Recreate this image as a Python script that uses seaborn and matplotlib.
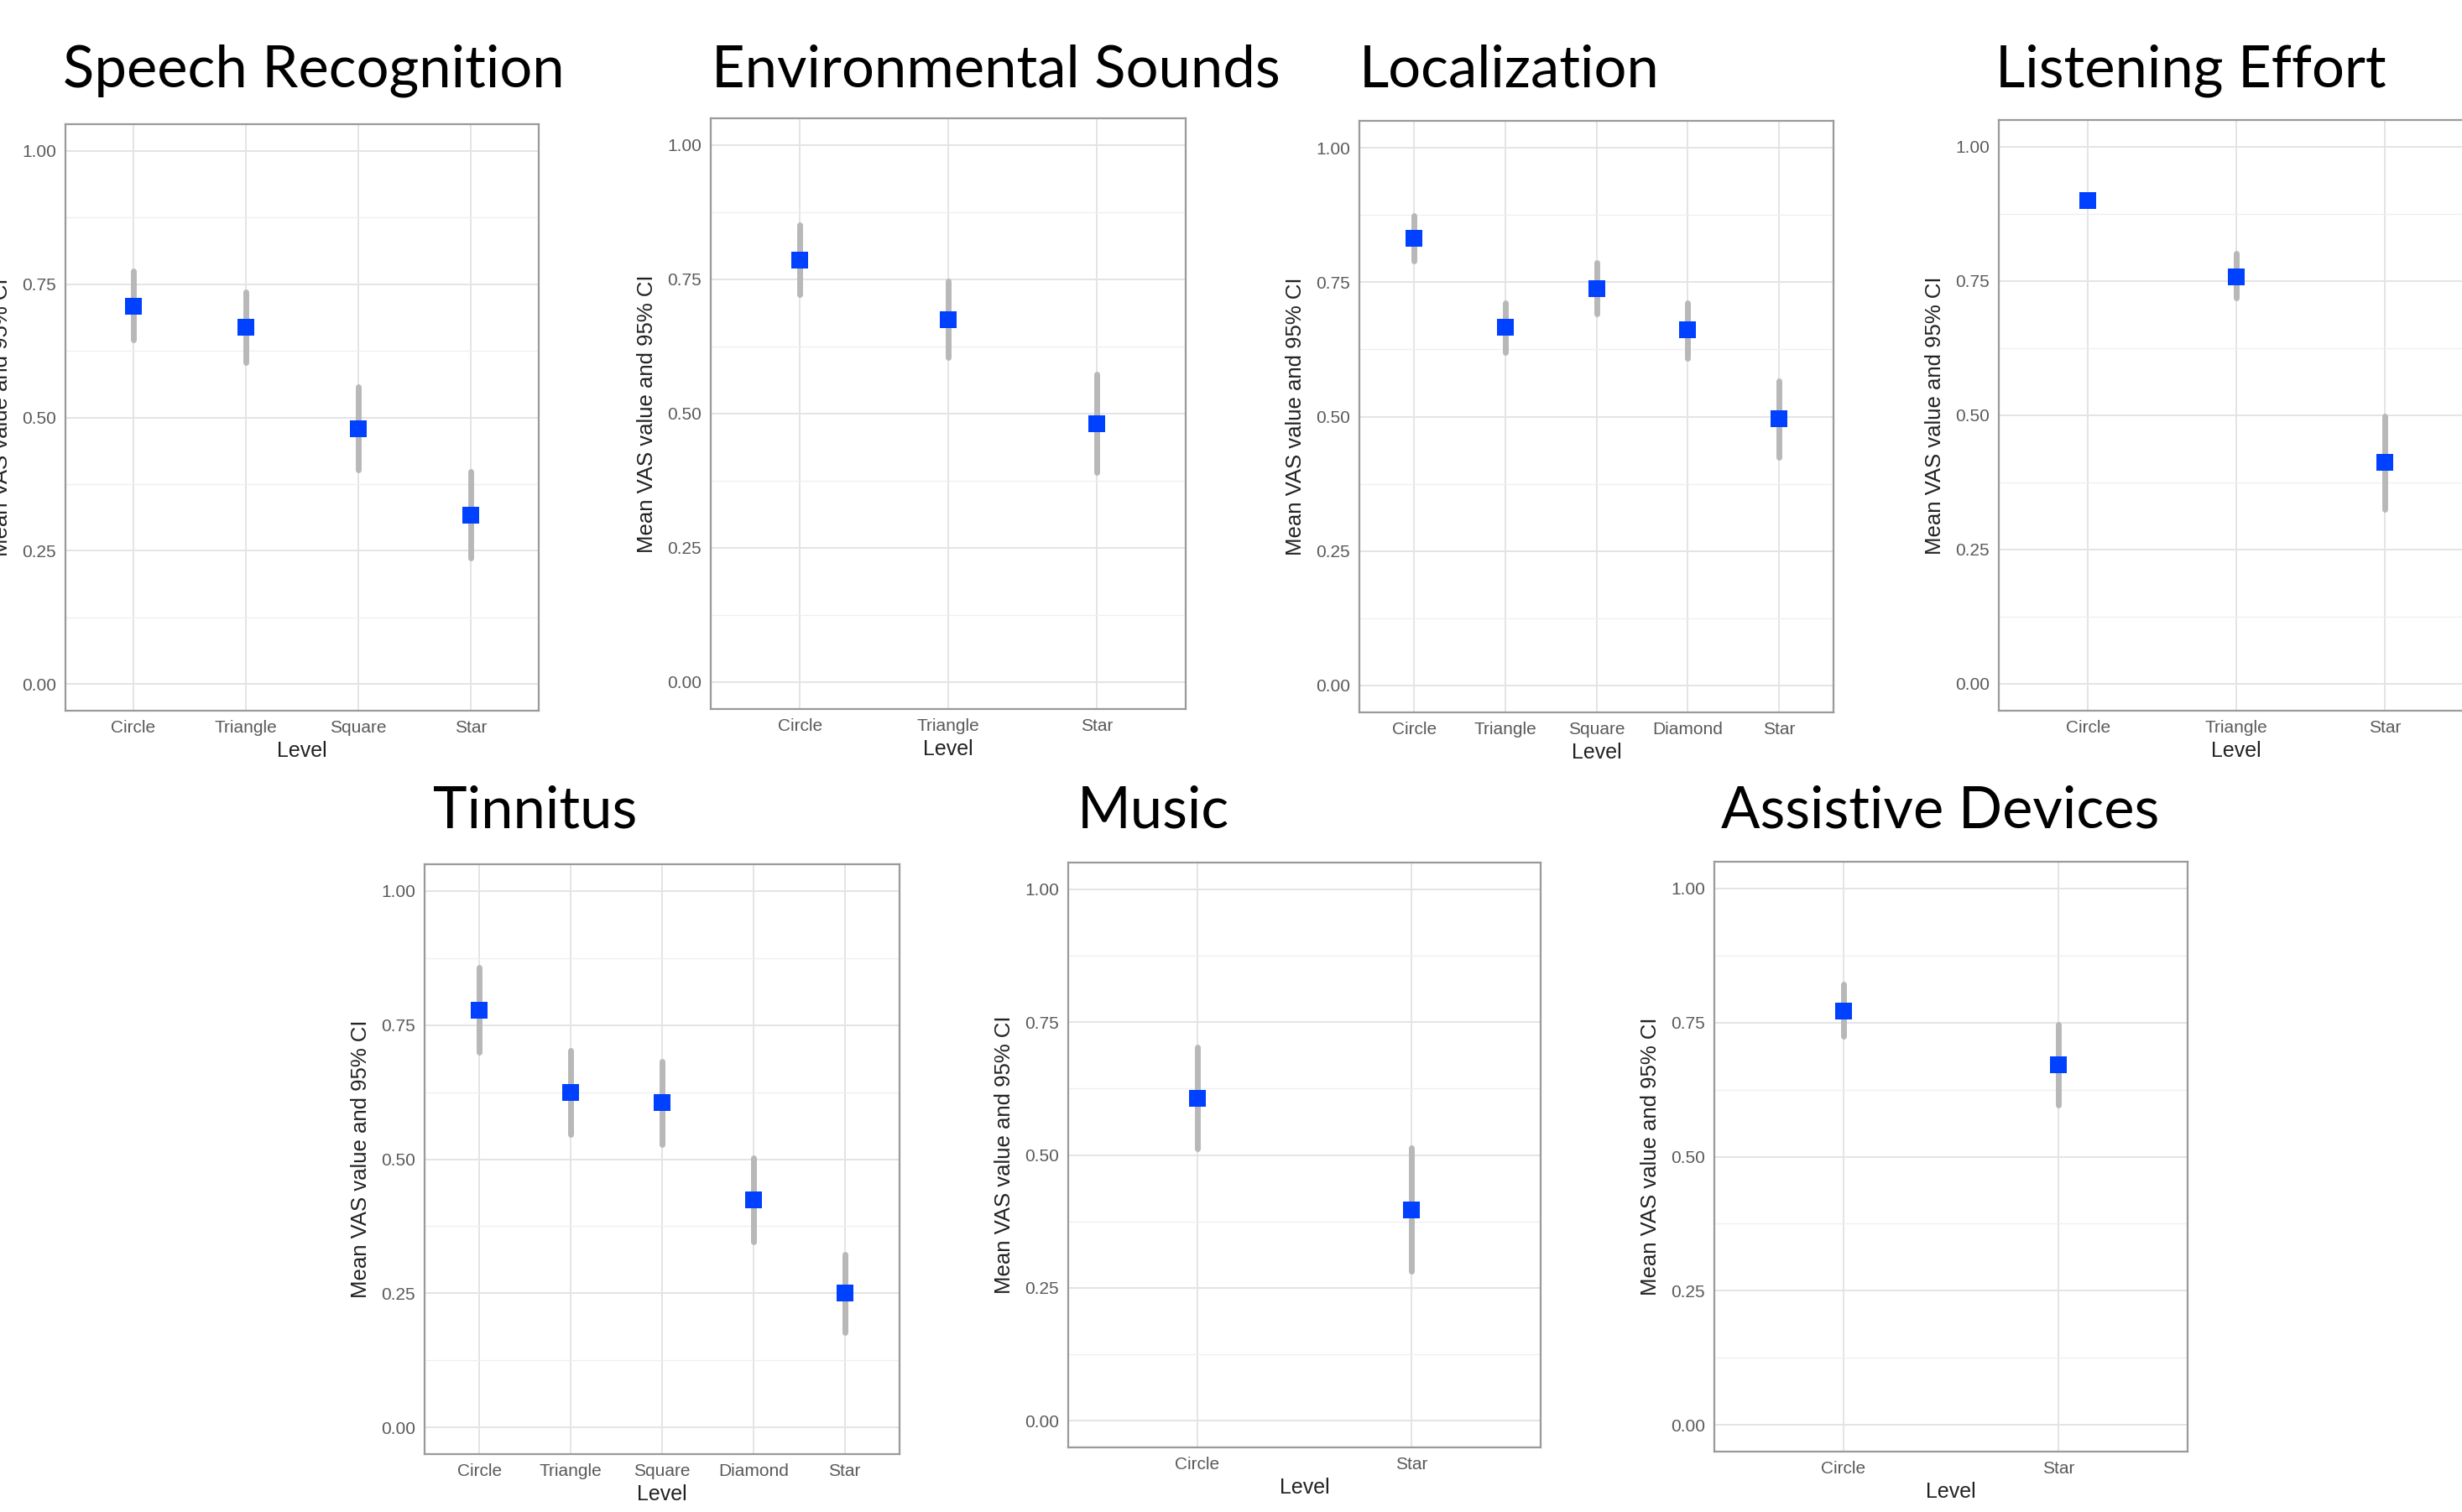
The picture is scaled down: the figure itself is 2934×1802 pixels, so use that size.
import numpy as np
import pandas as pd
import matplotlib
matplotlib.use("Agg")
import matplotlib.pyplot as plt
from matplotlib.ticker import MultipleLocator
import seaborn as sns

sns.set_style("white")
plt.rcParams['font.family'] = ['Liberation Sans', 'DejaVu Sans']

# ---- data (mean VAS value and 95% CI) ----
titles = ["Speech Recognition", "Environmental Sounds", "Localization", "Listening Effort",
          "Tinnitus", "Music", "Assistive Devices"]

levels_speech = ["Circle", "Triangle", "Square", "Star"]
mean_speech = [0.709, 0.669, 0.478, 0.317]
lo_speech = [0.646, 0.603, 0.402, 0.237]
hi_speech = [0.774, 0.736, 0.557, 0.399]

levels_env = ["Circle", "Triangle", "Star"]
mean_env = [0.786, 0.675, 0.481]
lo_env = [0.722, 0.604, 0.390]
hi_env = [0.851, 0.747, 0.573]

levels_loc = ["Circle", "Triangle", "Square", "Diamond", "Star"]
mean_loc = [0.831, 0.666, 0.738, 0.661, 0.496]
lo_loc = [0.790, 0.620, 0.691, 0.608, 0.424]
hi_loc = [0.873, 0.712, 0.786, 0.712, 0.567]

levels_effort = ["Circle", "Triangle", "Star"]
mean_effort = [0.900, 0.758, 0.412]
lo_effort = [0.893, 0.718, 0.325]
hi_effort = [0.907, 0.801, 0.499]

levels_tinn = ["Circle", "Triangle", "Square", "Diamond", "Star"]
mean_tinn = [0.778, 0.624, 0.605, 0.424, 0.250]
lo_tinn = [0.700, 0.546, 0.528, 0.346, 0.177]
hi_tinn = [0.858, 0.702, 0.682, 0.502, 0.322]

levels_music = ["Circle", "Star"]
mean_music = [0.607, 0.396]
lo_music = [0.512, 0.281]
hi_music = [0.703, 0.513]

levels_assist = ["Circle", "Star"]
mean_assist = [0.772, 0.672]
lo_assist = [0.725, 0.597]
hi_assist = [0.821, 0.747]

panels = [
    (levels_speech, mean_speech, lo_speech, hi_speech),
    (levels_env, mean_env, lo_env, hi_env),
    (levels_loc, mean_loc, lo_loc, hi_loc),
    (levels_effort, mean_effort, lo_effort, hi_effort),
    (levels_tinn, mean_tinn, lo_tinn, hi_tinn),
    (levels_music, mean_music, lo_music, hi_music),
    (levels_assist, mean_assist, lo_assist, hi_assist),
]

# ---- layout (pixels in the 2934x1802 canvas) ----
W, H = 2934, 1802
boxes = [(78, 642, 148, 847), (847, 1413, 141, 845), (1620, 2185, 144, 849), (2382, 2948, 143, 847),
         (506, 1072, 1030, 1733), (1273, 1836, 1028, 1725), (2043, 2607, 1027, 1730)]
title_pos = [(75, 84), (848, 84), (1620, 84), (2378, 84),
             (516, 967), (1284, 967), (2051, 967)]

BLUE = "#0040FF"
GREY = "#B8B8B8"

fig = plt.figure(figsize=(W / 100, H / 100), dpi=100)

for (levels, mean, lo, hi), (l, r, t, b), title, (tx, ty) in zip(panels, boxes, titles, title_pos):
    ax = fig.add_axes([l / W, 1 - b / H, (r - l) / W, (b - t) / H])
    # median of (lo, mean, hi) is the mean, the 100% interval spans lo..hi
    df = pd.DataFrame({"Level": levels * 3, "value": lo + mean + hi})
    sns.pointplot(data=df, x="Level", y="value", order=levels, estimator="median",
                  errorbar=("pi", 100), linestyle="none", marker="s", markersize=14,
                  markeredgewidth=0, color=BLUE, err_kws={"color": GREY, "linewidth": 5},
                  ax=ax)
    for ln in ax.lines:
        if ln.get_marker() == "s":
            ln.set_zorder(5)

    n = len(levels)
    ax.set_xlim(-0.6, n - 0.4)
    ax.set_ylim(-0.05, 1.05)
    ax.set_yticks([0, 0.25, 0.5, 0.75, 1.0])
    ax.set_yticklabels(["0.00", "0.25", "0.50", "0.75", "1.00"])
    ax.yaxis.set_minor_locator(MultipleLocator(0.125))
    ax.set_axisbelow(True)
    ax.grid(which="major", color="#E4E4E4", linewidth=1.4)
    ax.grid(which="minor", axis="y", color="#EFEFEF", linewidth=0.9)
    ax.tick_params(which="major", length=4, width=1.3, color="#888888",
                   labelcolor="#5A5A5A", labelsize=15, pad=4)
    ax.tick_params(which="minor", length=0)
    for sp in ax.spines.values():
        sp.set_visible(True)
        sp.set_color("#9A9A9A")
        sp.set_linewidth(1.6)

    ax.set_xlabel("Level", fontsize=18, color="#222222")
    ax.set_ylabel("Mean VAS value and 95% CI", fontsize=18.5, color="#222222")
    h = b - t
    ax.xaxis.set_label_coords(0.5, -36 / h)
    ax.yaxis.set_label_coords(-64 / (r - l), 0.5)

    fig.text(tx / W, 1 - ty / H, title, fontsize=49.5, family=["Lato", "DejaVu Sans"],
             ha="left", va="center", color="black")

fig.savefig("out.png", dpi=100, facecolor="white")
